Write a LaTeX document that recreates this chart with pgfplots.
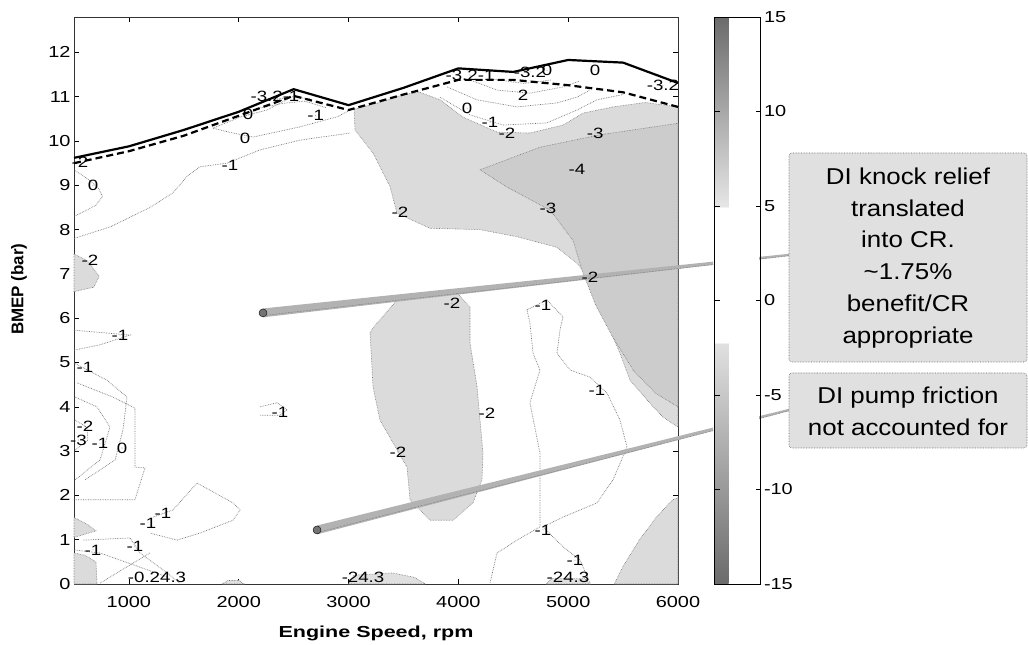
\documentclass[border=0pt]{standalone}
\usepackage{pgfplots}
\pgfplotsset{compat=1.18}
\usepackage{fontspec}
\setmainfont{Liberation Sans}[FakeStretch=1.25]
\newfontfamily\plainsans{Liberation Sans}
\newfontfamily\widesans{Liberation Sans}[FakeStretch=1.35]
\newfontfamily\boxsans{Liberation Sans}[FakeStretch=1.13]
\newcommand\ticfont{\fontsize{16}{18}\selectfont}
\newcommand\clfont{\fontsize{15}{17}\selectfont}
\definecolor{lt}{gray}{0.86}
\definecolor{md}{gray}{0.80}
\definecolor{cl}{gray}{0.45}
\definecolor{boxg}{gray}{0.88}
\pgfplotsset{
  colormap={cb}{gray(0cm)=(0.42); gray(12.7cm)=(0.88); gray(12.8cm)=(1); gray(19.9cm)=(1); gray(20cm)=(0.9); gray(30cm)=(0.42)},
  cline/.style={densely dotted, draw=cl, line width=0.7pt, no markers, forget plot},
  reg/.style={draw=cl, densely dotted, line width=0.6pt, no markers, forget plot},
}
\begin{document}
\begin{tikzpicture}
\useasboundingbox (0,0) rectangle (1028bp,645bp);
\begin{axis}[
  at={(74bp,61bp)}, anchor=south west,
  scale only axis, width=604bp, height=567bp,
  xmin=500, xmax=6000, ymin=0, ymax=12.8,
  xtick={1000,2000,3000,4000,5000,6000}, ytick={0,1,...,12},
  tick align=inside, major tick length=5bp,
  xtick pos=both, ytick pos=both,
  /pgf/number format/assume math mode=true,
  /pgf/number format/1000 sep={},
  xticklabel style={font=\ticfont},
  xticklabel shift=9bp,
  yticklabel style={font=\ticfont},
  xlabel={\widesans\bfseries\fontsize{16}{18}\selectfont Engine Speed, rpm},
  ylabel={\plainsans\bfseries\fontsize{17}{19}\selectfont BMEP (bar)},
  xlabel style={at={(axis description cs:0.5,-0.0864)}, anchor=center},
  ylabel style={at={(axis description cs:-0.091,0.52)}, anchor=center},
  axis line style={black!80, line width=0.7pt},
  every tick/.style={black, line width=0.6pt},
  clip=false,
  colormap name=cb,
  point meta min=-15, point meta max=15,
  colorbar,
  colorbar style={
    at={(parent axis.north east)}, anchor=north west, xshift=28bp,
    scale only axis, width=46bp, height=567bp,
    ytick={-15,-10,...,15}, tick align=inside, major tick length=5bp,
    ytick pos=both, yticklabel pos=right,
    yticklabel style={font=\ticfont},
    axis line style={black, line width=0.7pt},
    /pgf/number format/assume math mode=true,
  },
]
% ---- shaded regions ----
\addplot[reg, fill=lt] coordinates {
 (3050,10.72) (3300,10.88) (3500,11.05) (3650,11.10) (3833,10.93) (4042,10.54) (4352,10.20)
 (4652,10.18) (4953,10.36) (5135,10.63) (5408,10.77) (5700,10.87) (6000,10.77)
 (6000,3.54) (5863,3.77) (5745,4.08) (5563,4.60) (5472,5.21) (5380,5.73) (5317,6.25)
 (5226,6.79) (5080,7.24) (4898,7.60) (4534,7.84) (4197,8.00) (3742,8.03) (3441,8.37)
 (3378,8.97) (3223,9.73) (3059,10.25)} -- cycle;
\addplot[reg, fill=md] coordinates {
 (4197,9.35) (4743,9.86) (5290,10.14) (6000,10.40) (6000,4.00) (5800,4.30) (5600,4.80)
 (5400,5.60) (5250,6.30) (5135,7.02) (5044,7.76) (4835,8.44) (4443,8.96)} -- cycle;
\addplot[reg, fill=lt] coordinates {
 (3196,5.67) (3223,5.78) (3441,6.41) (3651,6.57) (3988,6.57) (4106,6.25) (4106,5.73)
 (4106,5.44) (4170,4.45) (4197,3.70) (4224,2.96) (4215,2.35) (4133,1.83) (3951,1.44)
 (3742,1.44) (3560,1.90) (3532,2.64) (3286,3.70) (3223,4.45)} -- cycle;
\addplot[reg, fill=lt] coordinates {(500,7.45) (620,7.30) (730,6.95) (680,6.70) (500,6.60)} -- cycle;
\addplot[reg, fill=lt] coordinates {(500,1.50) (620,1.35) (700,1.20) (500,1.05)} -- cycle;
\addplot[reg, fill=lt] coordinates {(500,0.70) (600,0.65) (700,0.50) (710,0) (500,0)} -- cycle;
\addplot[reg, fill=lt] coordinates {(5420,0) (5500,0.40) (5650,1.00) (5800,1.50) (5950,1.90) (6000,1.95) (6000,0)} -- cycle;
\addplot[reg, fill=boxg] coordinates {(3000,0) (3050,0.20) (3400,0.25) (3600,0.15) (3700,0)} -- cycle;
\addplot[reg, fill=boxg] coordinates {(4800,0) (4850,0.12) (5150,0.12) (5200,0)} -- cycle;
\addplot[reg, fill=boxg] coordinates {(1850,0) (1900,0.08) (2000,0.08) (2050,0)} -- cycle;
% ---- contour lines ----
\addplot[cline] coordinates {(500,7.8) (828,8.06) (1192,8.5) (1401,8.83) (1529,9.2) (1647,9.42) (1893,9.5) (2194,9.8) (2558,10.02) (3013,10.18)};
\addplot[cline] coordinates {(1766,10.29) (1948,10.18) (2130,10.09) (2558,10.32) (2900,10.55) (3000,10.68)};
\addplot[cline] coordinates {(1766,10.29) (2012,10.54) (2258,10.70) (2450,10.95)};
\addplot[cline] coordinates {(2200,10.75) (2400,10.85) (2600,10.90) (2800,10.75)};
\addplot[cline] coordinates {(2350,10.95) (2500,11.00) (2650,10.95)};
\addplot[cline] coordinates {(500,9.35) (620,9.15) (720,8.95) (760,8.75) (700,8.55) (600,8.42) (500,8.30)};
\addplot[cline] coordinates {(3833,10.99) (4106,10.59) (4407,10.36) (4807,10.41) (5080,10.70) (5262,10.93) (5500,11.05)};
\addplot[cline] coordinates {(3897,11.22) (4170,10.93) (4534,10.77) (4898,10.86) (5080,10.99) (5199,11.15)};
\addplot[cline] coordinates {(4106,11.38) (4352,11.15) (4652,11.08) (4953,11.22) (5100,11.35)};
\addplot[cline] coordinates {(4300,11.40) (4600,11.30) (4850,11.38)};
\addplot[cline] coordinates {(1219,1.51) (1401,1.67) (1620,2.28) (1948,1.83) (2012,1.67) (1948,1.44) (1647,1.15) (1438,0.99) (1192,1.15)};
\addplot[cline] coordinates {(527,4.54) (855,4.22) (1055,3.97) (1055,2.64) (1146,2.62) (1055,1.90) (500,1.90)};
\addplot[cline] coordinates {(500,5.73) (1010,5.62) (737,5.40) (500,5.28)};
\addplot[cline] coordinates {(509,4.22) (709,4.00) (828,3.54) (737,2.80) (509,2.35)};
\addplot[cline] coordinates {(509,3.70) (618,3.54) (627,3.25) (509,3.02)};
\addplot[cline] coordinates {(500,4.99) (800,4.60) (983,4.22) (946,3.48) (874,2.80) (600,2.35)};
\addplot[cline] coordinates {(582,0.99) (1010,1.04) (1101,0.70) (1347,0.25) (1465,0.02)};
\addplot[cline] coordinates {(500,0.77) (737,0.70) (1101,0.38) (1347,0.16)};
\addplot[cline] coordinates {(737,0.02) (1037,0.47) (1192,0.70)};
\addplot[cline] coordinates {(2194,4.0) (2349,4.09) (2440,3.93) (2376,3.81) (2194,3.81)};
\addplot[cline] coordinates {(4625,6.19) (4807,6.41) (4953,6.03) (4925,5.73) (4898,5.21) (5017,4.83) (5199,4.67) (5354,4.31) (5472,3.70) (5536,3.09) (5408,2.35) (5262,1.83) (4953,1.51) (4771,1.29) (4953,0.84) (5108,0.54) (5199,0.02)};
\addplot[cline] coordinates {(4625,6.19) (4652,5.89) (4680,5.21) (4743,4.83) (4652,4.09) (4743,2.96) (4743,2.19) (4743,1.29) (4534,0.99) (4352,0.70) (4288,0.02)};
% ---- boundary lines ----
\addplot[black, line width=2.2bp, no markers, forget plot] coordinates {(500,9.62) (1000,9.88) (1500,10.25) (2000,10.66) (2500,11.17) (3000,10.81) (3500,11.20) (4000,11.64) (4500,11.56) (5000,11.83) (5500,11.77) (6000,11.31)};
\addplot[black, line width=2.2bp, dash pattern=on 7bp off 4bp, no markers, forget plot] coordinates {(500,9.50) (1000,9.77) (1500,10.12) (2000,10.57) (2500,11.02) (3000,10.70) (3500,11.05) (4000,11.38) (4500,11.38) (5000,11.26) (5500,11.10) (6000,10.77)};
% ---- contour labels ----
\addplot[only marks, mark=*, mark size=0.01pt, mark options={draw=none, fill=none},
  point meta=explicit symbolic, nodes near coords,
  every node near coord/.append style={anchor=center, font=\clfont, inner sep=0pt, text=black}, forget plot]
  table[meta=lab] {
x y lab
673 9.0 0
555 9.53 -2
1920 9.46 -1
2057 10.07 0
2085 10.6 0
2700 10.58 -1
2330 11.0 -3.2-1
4106 11.49 -3.2-1
4652 11.56 -3.2
4807 11.6 0
5245 11.6 0
5863 11.26 -3.2
4589 11.04 2
4079 10.74 0
4288 10.43 -1
4443 10.18 -2
5245 10.18 -3
5080 9.35 -4
3469 8.4 -2
4816 8.48 -3
5199 6.93 -2
3942 6.34 -2
4771 6.3 -1
4261 3.86 -2
3450 2.98 -2
5262 4.38 -1
4771 1.22 -1
5062 0.54 -1
4998 0.14 -24.3
3132 0.14 -24.3
919 5.62 -1
600 4.9 -1
600 3.55 -2
540 3.25 -3
737 3.18 -1
937 3.07 0
2376 3.88 -1
1310 1.6 -1
1174 1.38 -1
673 0.77 -1
1055 0.84 -1
1256 0.14 -0.24.3
646 7.31 -2
};
% ---- annotation pointers (interrupted by the colour bar) ----
\addplot[fill=black!30, draw=none, forget plot] coordinates {(2221,6.22) (6319,7.277) (6319,7.205) (2221,6.02)} -- cycle;
\addplot[fill=black!30, draw=none, forget plot] coordinates {(6738,7.384) (7011,7.455) (7011,7.405) (6738,7.326)} -- cycle;
\addplot[densely dotted, black!60, line width=0.5pt, no markers, forget plot] coordinates {(2221,6.06) (6319,7.21)};
\addplot[densely dotted, black!60, line width=0.5pt, no markers, forget plot] coordinates {(6738,7.33) (7011,7.41)};
\addplot[only marks, mark=*, mark size=4bp, mark options={fill=black!55, draw=none}, forget plot] coordinates {(2221,6.12)};
\addplot[fill=black!30, draw=none, forget plot] coordinates {(2713,1.32) (6319,3.531) (6319,3.457) (2713,1.12)} -- cycle;
\addplot[fill=black!30, draw=none, forget plot] coordinates {(6738,3.788) (7011,3.955) (7011,3.905) (6738,3.728)} -- cycle;
\addplot[densely dotted, black!60, line width=0.5pt, no markers, forget plot] coordinates {(2713,1.16) (6319,3.46)};
\addplot[densely dotted, black!60, line width=0.5pt, no markers, forget plot] coordinates {(6738,3.73) (7011,3.91)};
\addplot[only marks, mark=*, mark size=4bp, mark options={fill=black!55, draw=none}, forget plot] coordinates {(2713,1.22)};
\end{axis}
% ---- text boxes ----
\fill[boxg, rounded corners=3bp] (789bp,283bp) rectangle (1027bp,492bp);
\draw[densely dotted, black!60, line width=0.6pt, rounded corners=3bp] (789bp,283bp) rectangle (1027bp,492bp);
\node[align=center, font=\boxsans\fontsize{23}{32}\selectfont, inner sep=0pt] at (908bp,387bp)
  {DI knock relief\\translated\\into CR.\\\textasciitilde1.75\%\\benefit/CR\\appropriate};
\fill[boxg, rounded corners=3bp] (789bp,197bp) rectangle (1027bp,272bp);
\draw[densely dotted, black!60, line width=0.6pt, rounded corners=3bp] (789bp,197bp) rectangle (1027bp,272bp);
\node[align=center, font=\boxsans\fontsize{23}{32}\selectfont, inner sep=0pt] at (908bp,234bp)
  {DI pump friction\\not accounted for};
\end{tikzpicture}
\end{document}
